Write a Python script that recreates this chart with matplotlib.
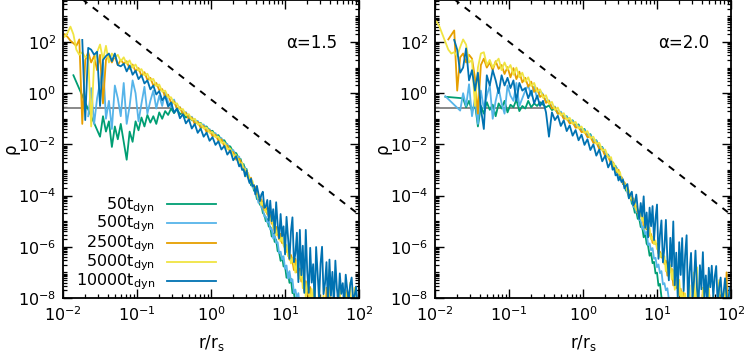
import numpy as np
import matplotlib.pyplot as plt
from matplotlib.ticker import LogLocator, NullFormatter

plt.rcParams['font.family'] = 'DejaVu Sans'
plt.rcParams['axes.unicode_minus'] = False
plt.rcParams['mathtext.default'] = 'regular'

# radial bins, log10(r/r_s): coarse inside, finer in the outskirts
log_r = [-1.98, -1.94, -1.90, -1.86, -1.82, -1.78, -1.74, -1.70, -1.66, -1.62,
         -1.58, -1.54, -1.50, -1.46, -1.42, -1.38, -1.34, -1.30, -1.26, -1.22,
         -1.18, -1.14, -1.10, -1.06, -1.02, -0.98, -0.94, -0.90, -0.86, -0.82,
         -0.78, -0.74, -0.70, -0.66, -0.62, -0.58, -0.54, -0.50, -0.46, -0.42,
         -0.38, -0.34, -0.30, -0.26, -0.22, -0.18, -0.14, -0.10, -0.06, -0.02,
         0.02, 0.06, 0.10, 0.14, 0.18, 0.22, 0.26, 0.30, 0.34, 0.38,
         0.40, 0.42, 0.44, 0.46, 0.48, 0.50, 0.52, 0.54, 0.56, 0.58,
         0.60, 0.62, 0.64, 0.66, 0.68, 0.70, 0.72, 0.74, 0.76, 0.78,
         0.80, 0.82, 0.84, 0.86, 0.88, 0.90, 0.92, 0.94, 0.96, 0.98,
         1.00, 1.02, 1.04, 1.06, 1.08, 1.10, 1.12, 1.14, 1.16, 1.18,
         1.20, 1.22, 1.24, 1.26, 1.28, 1.30, 1.32, 1.34, 1.36, 1.38,
         1.40, 1.42, 1.44, 1.46, 1.48, 1.50, 1.52, 1.54, 1.56, 1.58,
         1.60, 1.62, 1.64, 1.66, 1.68, 1.70, 1.72, 1.74, 1.76, 1.78,
         1.80, 1.82, 1.84, 1.86, 1.88, 1.90, 1.92, 1.94, 1.96, 1.98]

times = ["50", "500", "2500", "5000", "10000"]
colors = ["#009e73", "#56b4e9", "#e69f00", "#f0e442", "#0072b2"]

# log10(rho); None = empty bin
a15_t50 = [None, None, None, 0.70, None, None, None, None, None, None,
           None, None, -1.70, -0.90, -1.50, -1.10, -2.10, -1.30, -1.80, -1.20,
           -1.90, -2.60, -1.50, -1.90, -1.10, -1.45, -0.95, -1.30, -0.85, -1.15,
           -0.90, -1.20, -0.75, -1.00, -0.70, -0.85, -0.60, -0.78, -0.62, -0.82,
           -0.76, -0.95, -0.88, -1.06, -1.02, -1.18, -1.16, -1.32, -1.30, -1.48,
           -1.47, -1.66, -1.64, -1.84, -1.84, -2.05, -2.08, -2.30, -2.34, -2.58,
           -2.57, -2.83, -2.77, -3.00, -2.96, -3.28, -3.34, -3.60, -3.52, -3.81,
           -3.85, -4.14, -4.10, -4.36, -4.34, -4.68, -4.74, -5.00, -4.92, -5.21,
           -5.22, -5.60, -5.48, -5.81, -5.72, -6.17, -6.21, -6.55, -6.38, -6.77,
           -6.75, -7.21, -7.01, -7.41, -7.25, -7.81, -7.81, -8.21, -7.93, -8.40,
           -9.50, None, None, None, None, None, None, None, None, None,
           None, None, None, None, None, None, None, None, None, None,
           None, None, None, None, None, None, None, None, None, None,
           None, None, None, None, None, None, None, None, None, None]
a15_t500 = [None, None, None, None, None, None, None, None, -0.90, 0.20,
            -1.20, -0.20, 0.40, 1.20, -1.00, -0.30, -1.40, 0.30, -0.20, -0.90,
            0.40, -1.20, -0.50, 0.50, 0.00, -1.10, -0.40, 0.25, -0.80, -0.30,
            0.10, -0.60, -0.10, -0.50, 0.05, -0.35, -0.55, -0.25, -0.64, -0.55,
            -0.80, -0.74, -0.98, -0.92, -1.15, -1.08, -1.30, -1.22, -1.46, -1.40,
            -1.62, -1.56, -1.80, -1.75, -2.00, -1.98, -2.24, -2.22, -2.50, -2.48,
            -2.74, -2.71, -3.00, -2.89, -3.13, -3.13, -3.45, -3.44, -3.67, -3.62,
            -3.96, -3.96, -4.28, -4.20, -4.47, -4.49, -4.82, -4.82, -5.05, -4.98,
            -5.32, -5.26, -5.68, -5.50, -5.85, -5.82, -6.25, -6.19, -6.49, -6.37,
            -6.86, -6.73, -7.24, -6.95, -7.36, -7.27, -7.80, -7.67, -8.02, -7.81,
            -8.40, -8.10, -9.50, None, None, None, None, None, None, None,
            None, None, None, None, None, None, None, None, None, None,
            None, None, None, None, None, None, None, None, None, None,
            None, None, None, None, None, None, None, None, None, None]
a15_t2500 = [2.30, 2.20, 2.05, 1.95, 1.85, 2.10, -1.20, 1.30, 1.60, 1.20,
             1.45, 0.90, 1.50, -0.40, 1.30, 1.50, 1.20, 1.45, 1.10, 1.30,
             1.15, 1.25, 0.95, 1.12, 0.85, 0.98, 0.68, 0.82, 0.52, 0.60,
             0.30, 0.40, 0.12, 0.16, -0.14, -0.06, -0.38, -0.32, -0.60, -0.55,
             -0.82, -0.76, -1.02, -0.95, -1.20, -1.12, -1.36, -1.28, -1.52, -1.44,
             -1.68, -1.62, -1.86, -1.80, -2.08, -2.04, -2.32, -2.30, -2.60, -2.56,
             -2.66, -2.90, -2.89, -3.14, -3.03, -3.22, -3.41, -3.30, -3.59, -3.62,
             -3.67, -3.95, -3.96, -4.24, -4.15, -4.37, -4.56, -4.45, -4.73, -4.76,
             -4.75, -5.10, -5.06, -5.41, -5.22, -5.48, -5.71, -5.49, -5.86, -5.85,
             -5.85, -6.20, -6.16, -6.51, -6.32, -6.58, -6.91, -6.47, -7.00, -6.92,
             -6.85, -7.36, -7.22, -7.73, -7.34, -7.70, -8.01, -7.57, -8.10, -8.02,
             -8.30, -9.50, -9.50, -9.50, -9.50, -9.50, -9.50, -9.50, -7.60, -9.50,
             -9.50, -9.50, -9.50, -9.50, -9.50, -9.50, -9.50, -9.50, -9.50, -9.50,
             -9.50, -9.50, -7.70, -9.50, -9.50, -9.50, -9.50, -9.50, -9.50, -9.50]
a15_t5000 = [2.20, 2.35, 2.60, 2.30, 1.70, 1.50, 1.60, 1.40, 1.45, -1.30,
             1.20, 1.60, 1.90, 1.30, 1.85, 1.20, 1.55, 1.40, 1.50, 1.25,
             1.40, 1.15, 1.28, 1.00, 1.12, 0.88, 0.94, 0.70, 0.76, 0.50,
             0.56, 0.28, 0.34, 0.06, 0.10, -0.16, -0.16, -0.40, -0.40, -0.64,
             -0.62, -0.86, -0.82, -1.04, -1.00, -1.22, -1.18, -1.38, -1.34, -1.55,
             -1.52, -1.72, -1.70, -1.94, -1.92, -2.18, -2.16, -2.44, -2.42, -2.70,
             -2.81, -2.72, -3.03, -2.96, -3.25, -3.12, -3.31, -3.50, -3.43, -3.69,
             -3.82, -3.77, -4.10, -4.06, -4.37, -4.27, -4.46, -4.65, -4.57, -4.83,
             -4.97, -4.83, -5.27, -5.14, -5.55, -5.33, -5.56, -5.79, -5.62, -5.95,
             -6.07, -5.93, -6.37, -6.24, -6.65, -6.43, -6.66, -7.01, -6.55, -7.11,
             -7.25, -6.85, -7.62, -7.25, -7.96, -7.41, -7.76, -8.11, -7.65, -8.21,
             -7.60, -8.60, -9.50, -7.30, -9.50, -9.50, -7.90, -9.50, -9.50, -9.50,
             -6.90, -9.50, -9.50, -7.70, -9.50, -9.50, -9.50, -7.50, -9.50, -9.50,
             -9.50, -7.80, -9.50, -9.50, -7.40, -9.50, -9.50, -7.60, -9.50, -9.50]
a15_t10000 = [None, None, None, None, None, None, 2.08, -1.05, 1.77, 1.70,
              1.50, 1.62, -0.50, 1.30, 1.45, 1.55, 1.25, 1.55, 1.10, 1.05,
              1.15, 0.85, 1.08, 0.72, 0.88, 0.55, 0.70, 0.38, 0.50, 0.15,
              0.30, -0.05, 0.08, -0.28, -0.12, -0.52, -0.36, -0.76, -0.60, -0.98,
              -0.82, -1.18, -1.02, -1.38, -1.20, -1.55, -1.38, -1.70, -1.54, -1.86,
              -1.72, -2.02, -1.88, -2.20, -2.06, -2.40, -2.24, -2.62, -2.46, -2.86,
              -2.77, -3.00, -2.97, -3.25, -3.03, -3.31, -3.51, -3.34, -3.63, -3.59,
              -3.95, -3.62, -3.91, -4.22, -3.96, -3.85, -4.48, -4.42, -4.17, -4.98,
              -4.20, -5.00, -4.53, -5.46, -4.26, -5.14, -5.67, -4.72, -5.59, -5.20,
              -6.30, -4.83, -5.62, -6.47, -5.39, -4.85, -6.60, -6.26, -5.45, -7.38,
              -5.34, -7.11, -5.96, -7.80, -5.34, -6.96, -7.80, -6.04, -7.40, -6.68,
              -8.30, -6.01, -7.06, -8.06, -6.65, -6.00, -7.85, -7.43, -6.60, -8.30,
              -6.50, -7.91, -6.98, -8.30, -6.54, -7.62, -8.14, -7.04, -7.84, -7.42,
              -8.30, -7.09, -7.66, -8.09, -7.49, -7.20, -8.09, -7.91, -7.56, -8.30]

a20_t50 = [None, None, None, -0.14, None, None, None, None, None, -0.20,
           -0.55, -0.30, -0.70, -0.40, -1.30, -0.50, -0.80, -0.35, -0.65, -0.45,
           -0.90, -0.40, -0.60, -0.30, -0.75, -0.45, -0.55, -0.25, -0.70, -0.50,
           -0.60, -0.30, -0.55, -0.40, -0.50, -0.35, -0.45, -0.55, -0.48, -0.66,
           -0.60, -0.80, -0.74, -0.95, -0.90, -1.12, -1.06, -1.28, -1.22, -1.45,
           -1.40, -1.66, -1.60, -1.88, -1.84, -2.12, -2.10, -2.40, -2.40, -2.72,
           -2.72, -2.97, -2.84, -3.10, -3.13, -3.37, -3.29, -3.55, -3.51, -3.81,
           -3.79, -4.09, -4.01, -4.31, -4.39, -4.67, -4.62, -4.91, -4.90, -5.23,
           -5.21, -5.63, -5.47, -5.88, -5.97, -6.35, -6.24, -6.64, -6.59, -7.04,
           -7.01, -7.52, -7.45, -7.96, -8.07, -8.48, -9.50, None, None, None,
           None, None, None, None, None, None, None, None, None, None,
           None, None, None, None, None, None, None, None, None, None,
           None, None, None, None, None, None, None, None, None, None,
           None, None, None, None, None, None, None, None, None, None]
a20_t500 = [None, None, None, -0.12, None, None, None, None, -0.68, 0.00,
            -0.50, 0.35, -0.90, -0.20, -1.20, 0.10, -0.60, -0.10, 0.30, -1.00,
            -0.30, 0.20, -0.40, -0.80, 0.30, -0.10, -0.30, 0.40, -0.50, -0.20,
            0.10, 0.30, -0.10, 0.25, -0.20, 0.10, -0.05, -0.32, -0.28, -0.58,
            -0.52, -0.78, -0.72, -0.96, -0.92, -1.14, -1.08, -1.30, -1.26, -1.48,
            -1.44, -1.68, -1.64, -1.88, -1.86, -2.14, -2.12, -2.40, -2.42, -2.70,
            -2.86, -2.77, -2.98, -2.92, -3.25, -3.20, -3.40, -3.35, -3.65, -3.63,
            -3.90, -3.85, -4.10, -4.07, -4.44, -4.43, -4.65, -4.63, -4.95, -4.96,
            -5.30, -5.18, -5.51, -5.42, -5.93, -5.87, -6.14, -6.05, -6.47, -6.43,
            -6.80, -6.69, -7.03, -6.95, -7.47, -7.42, -7.70, -7.62, -8.05, -8.02,
            -8.40, -9.50, None, None, None, None, None, None, None, None,
            None, None, None, None, None, None, None, None, None, None,
            None, None, None, None, None, None, None, None, None, None,
            None, None, None, None, None, None, None, None, None, None]
a20_t2500 = [None, None, None, None, 2.10, None, 2.45, 0.10, 1.40, 1.55,
             1.20, 1.50, 1.35, 0.60, -0.80, 1.10, 1.35, 1.00, 1.20, 0.90,
             1.25, 0.95, 1.10, 0.75, 1.02, 0.62, 0.98, 0.55, 0.84, 0.42,
             0.60, 0.25, 0.45, 0.05, 0.20, -0.15, -0.05, -0.38, -0.30, -0.60,
             -0.55, -0.80, -0.78, -1.00, -0.98, -1.18, -1.14, -1.35, -1.32, -1.52,
             -1.50, -1.72, -1.70, -1.94, -1.92, -2.18, -2.18, -2.46, -2.48, -2.76,
             -2.68, -2.94, -2.91, -3.08, -2.99, -3.28, -3.27, -3.54, -3.48, -3.65,
             -3.69, -3.99, -3.98, -4.18, -4.11, -4.43, -4.42, -4.69, -4.62, -4.79,
             -4.78, -5.16, -5.09, -5.32, -5.16, -5.57, -5.50, -5.85, -5.69, -5.89,
             -5.88, -6.26, -6.19, -6.42, -6.26, -6.67, -6.54, -7.13, -6.70, -6.99,
             -6.86, -7.51, -7.26, -7.61, -7.18, -7.89, -7.64, -8.23, -7.80, -8.09,
             -8.40, -9.50, -9.50, -9.50, -9.50, -9.50, -9.50, -9.50, -9.50, -9.50,
             -9.50, -7.60, -9.50, -9.50, -9.50, -9.50, -9.50, -9.50, -9.50, -9.50,
             -9.50, -9.50, -7.40, -9.50, -9.50, -9.50, -9.50, -7.00, -9.50, -9.50]
a20_t5000 = [2.80, 2.60, 2.30, 2.00, 1.70, 1.55, 1.60, 1.45, 1.80, 2.10,
             1.90, 1.20, 1.30, -0.50, 1.00, 1.55, 1.60, 1.10, 1.30, 1.00,
             1.20, 1.35, 0.90, 1.20, 0.92, 1.10, 0.72, 1.00, 0.62, 0.80,
             0.45, 0.62, 0.28, 0.40, 0.05, 0.15, -0.18, -0.08, -0.42, -0.34,
             -0.66, -0.56, -0.86, -0.78, -1.04, -0.96, -1.20, -1.12, -1.38, -1.30,
             -1.56, -1.48, -1.76, -1.70, -1.98, -1.94, -2.24, -2.20, -2.52, -2.50,
             -2.82, -2.74, -3.05, -2.97, -3.13, -3.08, -3.41, -3.38, -3.62, -3.56,
             -3.83, -3.79, -4.12, -4.07, -4.25, -4.23, -4.56, -4.53, -4.76, -4.70,
             -4.99, -4.86, -5.30, -5.16, -5.37, -5.27, -5.71, -5.61, -5.90, -5.76,
             -6.09, -5.96, -6.40, -6.26, -6.47, -6.37, -6.96, -6.65, -7.12, -6.72,
             -7.28, -6.91, -7.68, -7.28, -7.60, -7.29, -8.06, -7.75, -8.22, -7.82,
             -8.40, -9.50, -7.50, -9.50, -9.50, -7.00, -9.50, -6.80, -9.50, -9.50,
             -9.50, -7.60, -9.50, -9.50, -9.50, -7.40, -9.50, -9.50, -7.90, -9.50,
             -9.50, -9.50, -7.30, -9.50, -9.50, -9.50, -7.70, -9.50, -9.50, -9.50]
a20_t10000 = [None, None, None, None, None, None, 2.08, 1.70, 0.80, 1.00,
              1.75, 0.50, 0.90, 0.10, 0.80, -0.60, -1.40, 0.70, 0.30, 0.90,
              0.50, 0.00, 0.70, 0.30, 0.60, 0.20, 0.50, -0.30, 0.40, 0.10,
              0.20, -0.20, 0.10, -0.40, -0.10, -0.50, -0.30, -0.75, -1.70, -0.75,
              -1.05, -0.88, -1.28, -1.06, -1.48, -1.26, -1.66, -1.44, -1.84, -1.62,
              -2.02, -1.80, -2.22, -2.00, -2.44, -2.20, -2.66, -2.44, -2.90, -2.66,
              -2.99, -2.92, -3.21, -3.16, -3.41, -3.26, -3.47, -3.38, -3.72, -3.61,
              -3.55, -4.11, -3.95, -3.85, -4.38, -4.27, -3.96, -4.53, -4.91, -4.29,
              -4.81, -4.03, -5.26, -4.66, -5.63, -4.47, -5.20, -4.41, -5.74, -4.89,
              -4.35, -6.47, -5.53, -4.97, -6.61, -6.03, -4.95, -6.46, -7.31, -5.65,
              -6.77, -5.01, -7.50, -6.23, -7.99, -5.82, -7.10, -5.66, -7.73, -6.33,
              -5.55, -8.30, -6.99, -6.24, -8.04, -7.32, -6.15, -7.60, -8.30, -6.72,
              -7.66, -6.21, -8.04, -7.12, -8.30, -6.82, -7.58, -6.74, -7.96, -7.17,
              -6.75, -8.30, -7.59, -7.20, -8.17, -7.80, -7.23, -7.96, -8.30, -7.60]

# flat initial core and r^-9/4 reference line
core_r = [0.01, 0.3]
core_rho = [0.26, 0.26]
ref_r = [0.01, 100.0]
ref_rho = [1.8e4, 1.8e-5]

r = 10.0 ** np.array(log_r)


def draw_panel(ax, series, label):
    ax.plot(core_r, core_rho, color='#808080', lw=1.3)
    for vals, c in zip(series, colors):
        y = np.array(vals, dtype=float)
        ok = np.isfinite(y)
        ax.plot(r[ok], 10.0 ** y[ok], color=c, lw=1.3)
    ax.plot(ref_r, ref_rho, color='k', lw=1.4, dashes=(3.5, 3.5))

    ax.set_xscale('log')
    ax.set_yscale('log')
    ax.set_xlim(1e-2, 1e2)
    ax.set_ylim(1e-8, 10 ** 3.64)
    ax.set_yticks([1e-8, 1e-6, 1e-4, 1e-2, 1e0, 1e2])
    ax.yaxis.set_minor_locator(LogLocator(base=10, subs=np.arange(1, 10), numticks=40))
    ax.yaxis.set_minor_formatter(NullFormatter())
    ax.xaxis.set_minor_locator(LogLocator(base=10, subs=np.arange(2, 10), numticks=40))
    ax.xaxis.set_minor_formatter(NullFormatter())
    ax.tick_params(which='both', direction='in', top=True, right=True, labelsize=11.5)
    ax.tick_params(which='major', length=6.5, width=1, pad=5)
    ax.tick_params(which='minor', length=3, width=0.9)
    for s in ax.spines.values():
        s.set_linewidth(1.3)
    ax.set_xlabel(r'r/r$_{\rm s}$', fontsize=12, labelpad=7)
    ax.set_ylabel('ρ', fontsize=12, va='center')
    ax.yaxis.set_label_coords(-0.176, 0.5)
    ax.text(0.84, 0.856, label, transform=ax.transAxes, ha='center', va='center', fontsize=12)


fig = plt.figure(figsize=(7.46, 3.55), dpi=100)
ax1 = fig.add_axes([0.0845, 0.1606, 0.3968, 0.8394])
ax2 = fig.add_axes([0.5831, 0.1606, 0.3968, 0.8394])

draw_panel(ax1, [a15_t50, a15_t500, a15_t2500, a15_t5000, a15_t10000], 'α=1.5')
draw_panel(ax2, [a20_t50, a20_t500, a20_t2500, a20_t5000, a20_t10000], 'α=2.0')

# key, gnuplot style: right-justified text then line sample
key_y = [0.315, 0.252, 0.185, 0.121, 0.057]
for t, c, yk in zip(times, colors, key_y):
    ax1.text(0.311, yk - 0.016, t + r't$_{\rm dyn}$', transform=ax1.transAxes,
             ha='right', va='baseline', fontsize=11.5)
    ax1.plot([0.351, 0.517], [yk, yk], transform=ax1.transAxes, color=c, lw=1.3)

fig.savefig('out.png', dpi=100)
